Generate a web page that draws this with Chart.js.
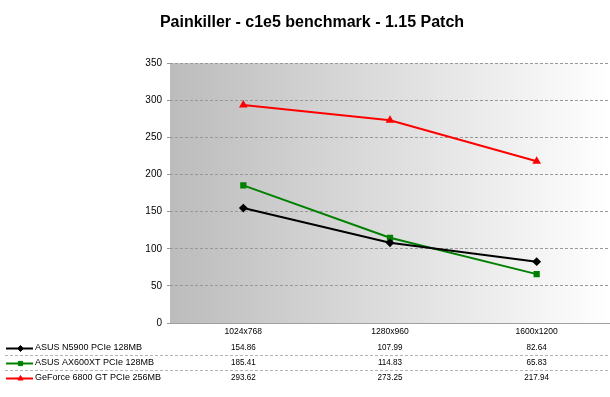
<!DOCTYPE html>
<html>
<head>
<meta charset="utf-8">
<script src="https://cdn.jsdelivr.net/npm/chart.js@4/dist/chart.umd.min.js"></script>
<style>
  html, body { margin: 0; padding: 0; background: #fff; }
  #wrap { width: 610px; height: 397px; position: relative; }
</style>
</head>
<body>
<div id="wrap"><canvas id="chart" width="610" height="397"></canvas></div>
<script>
// Dados
const categorias = ['1024x768', '1280x960', '1600x1200'];
const nomes = ['ASUS N5900 PCIe 128MB', 'ASUS AX600XT PCIe 128MB', 'GeForce 6800 GT PCIe 256MB'];
const n5900 = [154.86, 107.99, 82.64];
const ax600 = [185.41, 114.83, 65.83];
const gf6800 = [293.62, 273.25, 217.94];
const cores = ['#000000', '#008000', '#ff0000'];
const marcadores = ['rectRot', 'rect', 'triangle'];
const yTicks = [0, 50, 100, 150, 200, 250, 300, 350];

const series = [n5900, ax600, gf6800];
const fonteTabela = '9px "Liberation Sans", Arial, sans-serif';

// texto com compressão horizontal opcional
function texto(ctx, txt, x, y, align, esc = 1) {
    const w = ctx.measureText(txt).width * esc;
    let x0 = x;
    if (align === 'center') x0 = x - w / 2;
    if (align === 'right') x0 = x - w;
    ctx.save();
    ctx.translate(x0, y);
    ctx.scale(esc, 1);
    ctx.textAlign = 'left';
    ctx.fillText(txt, 0, 0);
    ctx.restore();
}

// Fundo em degradê da área do gráfico
const fundoPlugin = {
    id: 'fundo',
    beforeDraw(chart) {
        const { ctx, chartArea: a } = chart;
        const g = ctx.createLinearGradient(a.left, 0, a.right, 0);
        g.addColorStop(0, '#bcbcbc');
        g.addColorStop(1, '#ffffff');
        ctx.save();
        ctx.fillStyle = g;
        ctx.fillRect(a.left, a.top, a.right - a.left, a.bottom - a.top);
        ctx.restore();
    }
};

// Tabela de dados com legenda
const tabelaPlugin = {
    id: 'tabela',
    afterDraw(chart) {
        const { ctx } = chart;
        const x = chart.scales.x;
        const linhas = [348, 363, 378];
        ctx.save();
        ctx.font = fonteTabela;
        ctx.textBaseline = 'middle';
        ctx.fillStyle = '#000';
        // categorias
        categorias.forEach((c, j) => texto(ctx, c, x.getPixelForValue(j), 332, 'center', 0.95));
        // separadores
        ctx.strokeStyle = '#b4b4b4';
        ctx.lineWidth = 1;
        ctx.setLineDash([3, 2]);
        [355.5, 370.5].forEach(y => {
            ctx.beginPath();
            ctx.moveTo(5, y);
            ctx.lineTo(610, y);
            ctx.stroke();
        });
        ctx.setLineDash([]);
        series.forEach((vals, i) => {
            const y = linhas[i];
            // amostra da legenda
            ctx.strokeStyle = cores[i];
            ctx.lineWidth = 2;
            ctx.beginPath();
            ctx.moveTo(6, y + 0.5);
            ctx.lineTo(33, y + 0.5);
            ctx.stroke();
            ctx.fillStyle = cores[i];
            ctx.lineWidth = 1;
            Chart.helpers.drawPoint(ctx, { pointStyle: marcadores[i], radius: 3, borderWidth: 1 }, 20.5, y + 0.5);
            ctx.fillStyle = '#000';
            texto(ctx, nomes[i], 35, y, 'left', 1);
            vals.forEach((v, j) => {
                texto(ctx, v.toFixed(2), x.getPixelForValue(j), y, 'center', 0.9);
            });
        });
        ctx.restore();
    }
};

const datasets = series.map((vals, i) => ({
    label: nomes[i],
    data: vals,
    borderColor: cores[i],
    backgroundColor: cores[i],
    borderWidth: 2,
    pointStyle: marcadores[i],
    pointRadius: 3,
    pointHoverRadius: 3,
    tension: 0
}));

new Chart(document.getElementById('chart'), {
    type: 'line',
    data: { labels: categorias, datasets },
    options: {
        responsive: false,
        animation: false,
        events: [],
        layout: { padding: { left: 14, right: 0, top: 0, bottom: 0 }, autoPadding: false },
        plugins: {
            legend: { display: false },
            tooltip: { enabled: false },
            title: {
                display: true,
                text: 'Painkiller - c1e5 benchmark - 1.15 Patch',
                color: '#000',
                font: { family: '"Liberation Sans", Arial, sans-serif', size: 16, weight: 'bold', lineHeight: 1.2 },
                padding: { top: 13, bottom: 31 }
            }
        },
        scales: {
            x: {
                offset: true,
                grid: { display: false, drawTicks: false },
                border: { display: true, color: '#a0a0a0', width: 1 },
                ticks: { display: false },
                afterFit(scale) {
                    scale.height = 74;
                    scale.paddingLeft = 0;
                    scale.paddingRight = 0;
                }
            },
            y: {
                min: 0,
                max: 350,
                afterBuildTicks(scale) { scale.ticks = yTicks.map(v => ({ value: v })); },
                grid: { color: '#999999', lineWidth: 1, tickLength: 3, drawTicks: true },
                border: { display: false, dash: [3, 2] },
                ticks: {
                    color: '#000',
                    padding: 5,
                    font: { family: '"Liberation Sans", Arial, sans-serif', size: 10 }
                },
                afterFit(scale) { scale.width = 156; }
            }
        }
    },
    plugins: [fundoPlugin, tabelaPlugin]
});
</script>
</body>
</html>
